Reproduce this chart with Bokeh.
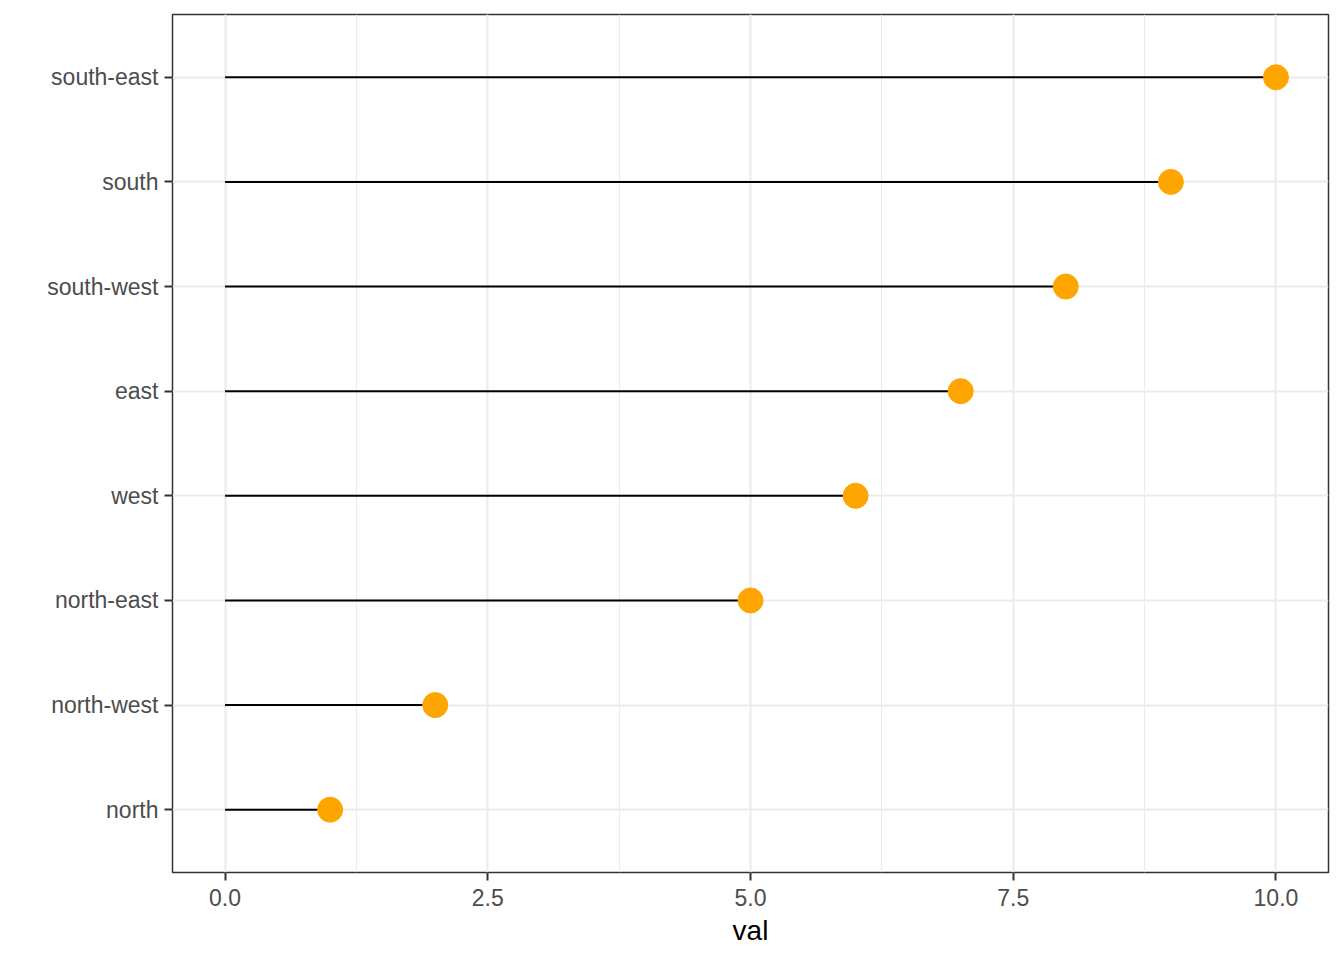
from bokeh.plotting import figure
from bokeh.models import FactorRange, Range1d, SingleIntervalTicker, NumeralTickFormatter
from bokeh.embed import file_html
from bokeh.resources import INLINE

categories = ["north", "north-west", "north-east", "west", "east", "south-west", "south", "south-east"]
values = [1, 2, 5, 6, 7, 8, 9, 10]
baseline = [0] * len(values)
x_label = "val"

FONT = "Liberation Sans"

p = figure(width=1338, height=952, output_backend="svg", toolbar_location=None,
           y_range=FactorRange(factors=categories, range_padding=0.1, range_padding_units="absolute"),
           x_range=Range1d(-0.5, 10.5),
           min_border_left=172, min_border_right=10, min_border_top=14, min_border_bottom=80)

p.segment(x0=baseline, y0=categories, x1=values, y1=categories, line_color="black", line_width=2)
p.scatter(x=values, y=categories, size=25, fill_color="#FFA500", line_color="#FFA500")

p.outline_line_color = "#333333"
p.outline_line_width = 1.5
p.background_fill_color = "white"
p.border_fill_color = "white"

p.xaxis.ticker = SingleIntervalTicker(interval=2.5, num_minor_ticks=2)
p.xaxis.formatter = NumeralTickFormatter(format="0.0")
p.xaxis.axis_label = x_label
p.xaxis.axis_label_text_font = FONT
p.xaxis.axis_label_text_font_size = "28px"
p.xaxis.axis_label_text_font_style = "normal"
p.xaxis.axis_label_text_color = "black"
p.xaxis.axis_label_standoff = 6

for ax in (p.xaxis, p.yaxis):
    ax.axis_line_color = None
    ax.major_tick_line_color = "#333333"
    ax.major_tick_line_width = 2
    ax.major_tick_out = 8
    ax.major_tick_in = 0
    ax.minor_tick_line_color = None
    ax.major_label_text_font = FONT
    ax.major_label_text_font_size = "23px"
    ax.major_label_text_color = "#4D4D4D"

p.yaxis.major_label_standoff = 6
p.xaxis.major_label_standoff = 8

p.xgrid.grid_line_color = "#EBEBEB"
p.xgrid.grid_line_width = 2
p.xgrid.minor_grid_line_color = "#EBEBEB"
p.xgrid.minor_grid_line_width = 1
p.ygrid.grid_line_color = "#EBEBEB"
p.ygrid.grid_line_width = 2

p.xgrid.level = "underlay"
p.ygrid.level = "underlay"

open("out.html", "w").write(file_html(p, INLINE))
